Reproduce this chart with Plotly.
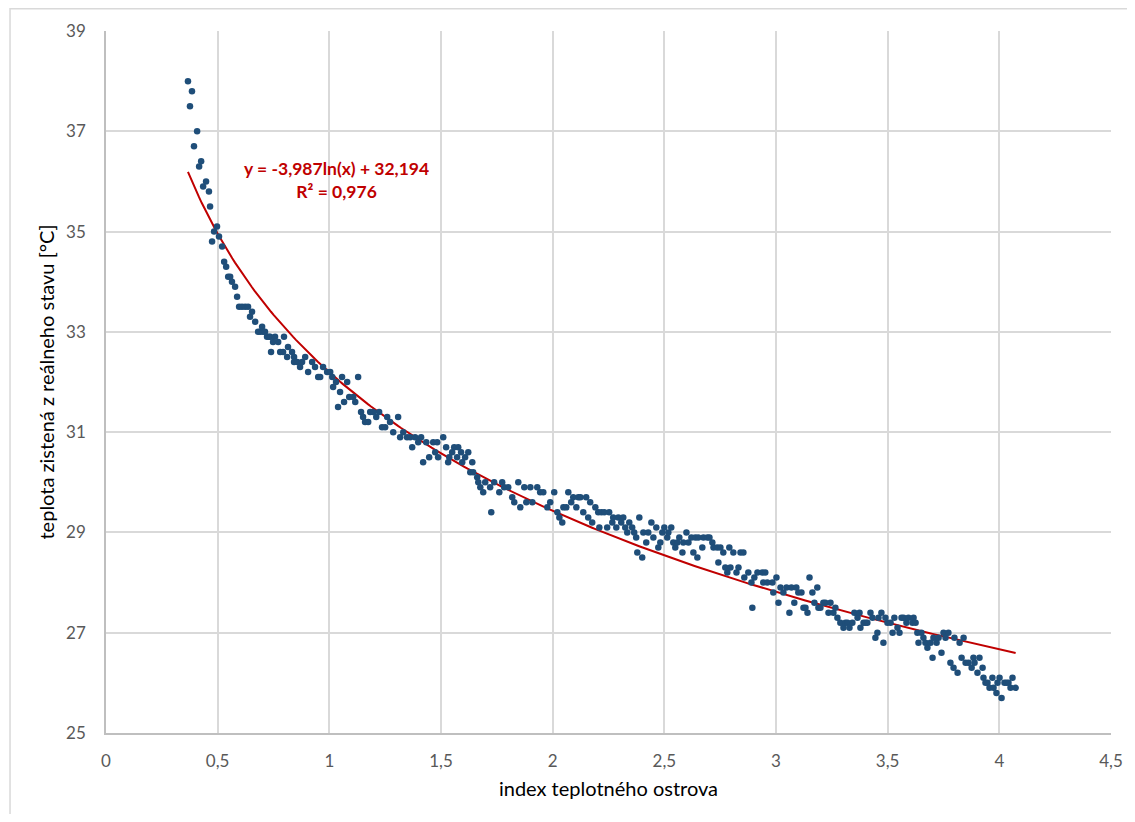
import numpy as np
import plotly.graph_objects as go

# index teplotného ostrova
x_vals = [
    0.367, 0.376, 0.385, 0.394, 0.408, 0.417, 0.426, 0.435, 0.448, 0.461,
    0.466, 0.475, 0.484, 0.497, 0.506, 0.520, 0.529, 0.538, 0.547, 0.556,
    0.564, 0.578, 0.587, 0.596, 0.609, 0.623, 0.636, 0.645, 0.654, 0.668,
    0.681, 0.690, 0.699, 0.703, 0.712, 0.721, 0.730, 0.735, 0.739, 0.748,
    0.757, 0.771, 0.780, 0.793, 0.797, 0.811, 0.815, 0.833, 0.842, 0.842,
    0.856, 0.869, 0.878, 0.892, 0.905, 0.923, 0.936, 0.950, 0.959, 0.972,
    0.990, 1.004, 1.013, 1.017, 1.030, 1.039, 1.048, 1.057, 1.066, 1.080,
    1.089, 1.107, 1.116, 1.129, 1.142, 1.151, 1.160, 1.174, 1.183, 1.196,
    1.210, 1.223, 1.236, 1.250, 1.259, 1.272, 1.286, 1.308, 1.317, 1.331,
    1.348, 1.362, 1.371, 1.384, 1.398, 1.411, 1.420, 1.434, 1.447, 1.465,
    1.474, 1.483, 1.487, 1.510, 1.523, 1.532, 1.537, 1.550, 1.559, 1.572,
    1.577, 1.590, 1.595, 1.608, 1.622, 1.631, 1.640, 1.644, 1.662, 1.667,
    1.676, 1.689, 1.698, 1.720, 1.725, 1.738, 1.761, 1.774, 1.783, 1.801,
    1.819, 1.828, 1.846, 1.855, 1.873, 1.882, 1.900, 1.909, 1.931, 1.944,
    1.958, 1.976, 1.989, 2.007, 2.021, 2.030, 2.043, 2.048, 2.061, 2.070,
    2.083, 2.092, 2.106, 2.115, 2.124, 2.137, 2.150, 2.159, 2.168, 2.177,
    2.191, 2.204, 2.209, 2.218, 2.231, 2.244, 2.253, 2.267, 2.271, 2.285,
    2.294, 2.307, 2.316, 2.325, 2.334, 2.343, 2.356, 2.365, 2.374, 2.379,
    2.388, 2.401, 2.406, 2.419, 2.428, 2.442, 2.451, 2.464, 2.473, 2.482,
    2.491, 2.500, 2.513, 2.518, 2.531, 2.540, 2.549, 2.558, 2.567, 2.581,
    2.585, 2.599, 2.608, 2.621, 2.630, 2.639, 2.648, 2.652, 2.670, 2.675,
    2.693, 2.702, 2.715, 2.720, 2.737, 2.742, 2.751, 2.764, 2.773, 2.782,
    2.791, 2.796, 2.809, 2.823, 2.832, 2.841, 2.854, 2.858, 2.876, 2.890,
    2.894, 2.903, 2.917, 2.939, 2.943, 2.952, 2.961, 2.984, 2.988, 3.002,
    3.011, 3.020, 3.033, 3.047, 3.060, 3.069, 3.082, 3.091, 3.100, 3.114,
    3.123, 3.132, 3.141, 3.150, 3.163, 3.172, 3.185, 3.190, 3.199, 3.212,
    3.221, 3.235, 3.244, 3.257, 3.266, 3.275, 3.288, 3.302, 3.311, 3.320,
    3.329, 3.342, 3.351, 3.365, 3.374, 3.378, 3.392, 3.401, 3.409, 3.423,
    3.432, 3.445, 3.454, 3.459, 3.472, 3.481, 3.490, 3.499, 3.513, 3.522,
    3.530, 3.544, 3.553, 3.562, 3.571, 3.584, 3.593, 3.611, 3.616, 3.625,
    3.633, 3.638, 3.651, 3.660, 3.669, 3.678, 3.692, 3.701, 3.705, 3.719,
    3.728, 3.741, 3.750, 3.759, 3.772, 3.781, 3.795, 3.799, 3.813, 3.822,
    3.831, 3.840, 3.849, 3.862, 3.876, 3.884, 3.889, 3.902, 3.911, 3.925,
    3.929, 3.938, 3.947, 3.956, 3.969, 3.974, 3.987, 3.992, 4.001, 4.010,
    4.023, 4.032, 4.041, 4.050, 4.059, 4.073,
]

# teplota zistená z reálneho stavu [°C]
y_vals = [
    38.0, 37.5, 37.8, 36.7, 37.0, 36.3, 36.4, 35.9, 36.0, 35.8,
    35.5, 34.8, 35.0, 35.1, 34.9, 34.7, 34.4, 34.3, 34.1, 34.1,
    34.0, 33.9, 33.7, 33.5, 33.5, 33.5, 33.5, 33.3, 33.4, 33.2,
    33.0, 33.0, 33.1, 33.0, 33.0, 32.9, 32.9, 32.9, 32.6, 32.8,
    32.9, 32.8, 32.6, 32.6, 32.9, 32.5, 32.7, 32.6, 32.5, 32.4,
    32.4, 32.3, 32.4, 32.5, 32.2, 32.4, 32.3, 32.1, 32.1, 32.3,
    32.2, 32.2, 32.1, 31.9, 32.0, 31.5, 31.8, 32.1, 31.6, 32.0,
    31.7, 31.7, 31.6, 32.1, 31.4, 31.3, 31.2, 31.2, 31.4, 31.4,
    31.3, 31.4, 31.1, 31.1, 31.3, 31.2, 31.0, 31.3, 30.9, 31.0,
    30.9, 30.9, 30.7, 30.9, 30.8, 30.9, 30.4, 30.8, 30.5, 30.8,
    30.6, 30.8, 30.5, 30.9, 30.7, 30.4, 30.5, 30.6, 30.7, 30.5,
    30.7, 30.6, 30.4, 30.5, 30.6, 30.2, 30.4, 30.2, 30.1, 30.0,
    29.9, 29.8, 30.0, 29.9, 29.4, 30.0, 29.8, 30.0, 29.9, 29.9,
    29.7, 29.6, 30.0, 29.5, 29.9, 29.6, 29.9, 29.6, 29.9, 29.8,
    29.8, 29.5, 29.6, 29.8, 29.4, 29.3, 29.2, 29.5, 29.5, 29.8,
    29.6, 29.7, 29.5, 29.7, 29.7, 29.4, 29.7, 29.3, 29.6, 29.2,
    29.5, 29.4, 29.1, 29.4, 29.4, 29.1, 29.4, 29.2, 29.3, 29.1,
    29.3, 29.2, 29.3, 29.1, 29.0, 29.2, 29.1, 29.0, 28.9, 28.6,
    29.3, 28.5, 29.0, 28.8, 29.0, 29.2, 28.9, 29.1, 28.7, 28.8,
    29.0, 29.1, 28.9, 29.0, 29.1, 28.8, 28.7, 28.8, 28.9, 28.6,
    28.8, 29.0, 28.8, 28.9, 28.6, 28.9, 28.5, 28.9, 28.7, 28.9,
    28.9, 28.9, 28.8, 28.7, 28.7, 28.4, 28.7, 28.6, 28.3, 28.2,
    28.7, 28.3, 28.6, 28.2, 28.3, 28.6, 28.6, 28.1, 28.2, 28.0,
    27.5, 28.1, 28.2, 28.2, 28.0, 28.2, 28.0, 28.0, 27.8, 28.1,
    27.6, 27.9, 27.8, 27.9, 27.4, 27.9, 27.6, 27.9, 27.8, 27.8,
    27.5, 27.5, 27.4, 28.1, 27.8, 27.6, 27.9, 27.5, 27.5, 27.6,
    27.6, 27.4, 27.6, 27.4, 27.5, 27.3, 27.2, 27.1, 27.2, 27.2,
    27.1, 27.2, 27.4, 27.3, 27.4, 27.1, 27.2, 27.2, 27.2, 27.4,
    27.3, 26.9, 27.0, 27.3, 27.4, 26.8, 27.3, 27.2, 27.2, 27.0,
    27.3, 27.1, 27.0, 27.3, 27.3, 27.2, 27.3, 27.2, 27.3, 27.2,
    27.0, 26.8, 27.0, 26.9, 26.8, 26.7, 26.8, 26.5, 26.9, 26.8,
    26.9, 26.6, 27.0, 26.9, 27.0, 26.4, 26.3, 26.9, 26.2, 26.8,
    26.5, 26.9, 26.4, 26.4, 26.3, 26.5, 26.4, 26.2, 26.5, 26.3,
    26.1, 26.0, 26.0, 25.9, 26.1, 25.9, 25.8, 26.0, 26.1, 25.7,
    26.0, 26.0, 26.0, 25.9, 26.1, 25.9,
]

# logarithmic trendline coefficients shown on the chart
trend_a = -3.987
trend_b = 32.194
trend_label = "y = -3,987ln(x) + 32,194<br>R² = 0,976"

x_tickvals = [0, 0.5, 1, 1.5, 2, 2.5, 3, 3.5, 4, 4.5]
x_ticktext = ["0", "0,5", "1", "1,5", "2", "2,5", "3", "3,5", "4", "4,5"]
y_tickvals = [25, 27, 29, 31, 33, 35, 37, 39]

x_title = "index teplotného ostrova"
y_title = "teplota zistená z reálneho stavu [°C]"

FONT = "Lato, 'Open Sans', sans-serif"
GRID = "#d9d9d9"
TICKCOL = "#595959"

xt = np.linspace(min(x_vals), max(x_vals), 300)
yt = trend_a * np.log(xt) + trend_b

fig = go.Figure()
fig.add_trace(go.Scatter(
    x=xt, y=yt, mode="lines",
    line=dict(color="#c00000", width=2),
    hoverinfo="skip", showlegend=False,
))
fig.add_trace(go.Scatter(
    x=x_vals, y=y_vals, mode="markers",
    marker=dict(color="#1f4e79", size=6.5, line=dict(width=0)),
    showlegend=False,
))

fig.add_annotation(
    x=1.03, y=36.03, xref="x", yref="y",
    text=trend_label, showarrow=False,
    font=dict(family=FONT, size=17.5, color="#c00000", weight="bold"),
    align="center",
)

fig.update_xaxes(
    range=[0, 4.5], tickvals=x_tickvals, ticktext=x_ticktext,
    automargin=False,
    showgrid=True, gridcolor=GRID, gridwidth=1.5,
    showline=True, linecolor="#bfbfbf", linewidth=1.5,
    zeroline=False,
    ticks="outside", ticklen=12, tickcolor="rgba(0,0,0,0)",
    tickfont=dict(family=FONT, size=17, color=TICKCOL),
    title=dict(text=x_title, font=dict(family=FONT, size=20, color="#000000"), standoff=12),
)
fig.update_yaxes(
    range=[25, 39], tickvals=y_tickvals,
    automargin=False,
    showgrid=True, gridcolor=GRID, gridwidth=1.5,
    showline=True, linecolor="#bfbfbf", linewidth=1.5,
    zeroline=False,
    ticks="outside", ticklen=15, tickcolor="rgba(0,0,0,0)",
    tickfont=dict(family=FONT, size=17, color=TICKCOL),
    title=dict(text=y_title, font=dict(family=FONT, size=20, color="#000000"), standoff=6),
)

# outer chart-area border (extends beyond the visible window on right/bottom)
fig.add_shape(
    type="rect", xref="paper", yref="paper",
    x0=-0.0955, x1=1.2, y0=-0.3, y1=1.0317,
    line=dict(color="#d9d9d9", width=1.5), fillcolor="rgba(0,0,0,0)",
    layer="below",
)

# page body adds an 8px offset, so the figure is sized/margined to compensate
fig.update_layout(
    width=1119, height=806,
    margin=dict(l=98, r=16, t=23, b=81),
    plot_bgcolor="white", paper_bgcolor="white",
    font=dict(family=FONT),
)

fig.write_html("out.html")
